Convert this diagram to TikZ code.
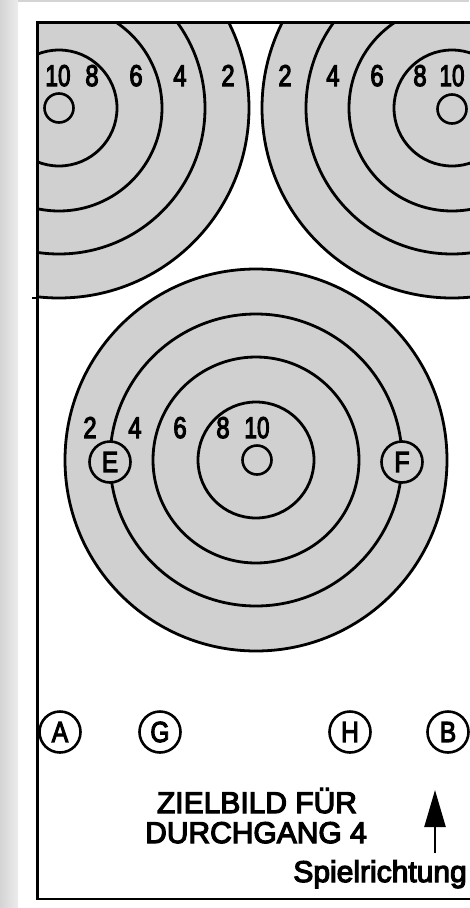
\documentclass[tikz,border=0pt]{standalone}
\usepackage{fontspec}
\usepackage{graphicx}
\setmainfont{Liberation Sans}
\newfontfamily\semib[FakeBold=4]{Liberation Sans}
\usetikzlibrary{arrows.meta}
\definecolor{tgray}{RGB}{208,208,208}
\definecolor{bgA}{RGB}{212,212,212}
\definecolor{bgB}{RGB}{236,236,236}
\begin{document}
\begin{tikzpicture}[x=1pt,y=-1pt,
  ring/.style={line width=2.8pt},
  digit/.style={anchor=base, inner sep=0pt, font=\fontsize{30}{30}\semib},
  letterc/.style={circle, draw, line width=2.6pt, minimum size=41pt, inner sep=0pt, font=\fontsize{29}{29}\semib},
  lbl/.style={inner sep=0pt, font=\fontsize{30}{30}\semib},
  bull/.style={line width=2.6pt}
]
\useasboundingbox (0,0) rectangle (469,908);
\fill[white] (0,0) rectangle (469,908);
\shade[left color=bgA, right color=bgB] (0,0) rectangle (18,908);
\fill[bgA] (18,0) rectangle (469,2);

% frame corners
\coordinate (TL) at (37.7,22.7);
\coordinate (BL) at (37.7,899);
\coordinate (TR) at (470,22.7);
\coordinate (BR) at (470,899);

% target centres
\coordinate (cL) at (59,108);
\coordinate (cR) at (452,108);
\coordinate (cM) at (256,460);

\begin{scope}
\clip (TL) rectangle (BR);
% left target
\fill[tgray] (cL) circle[radius=190pt];
\foreach \r in {58,103,146,190} \draw[ring] (cL) circle[radius=\r pt];
% right target
\fill[tgray] (cR) circle[radius=190pt];
\foreach \r in {58,103,146,190} \draw[ring] (cR) circle[radius=\r pt];
\end{scope}

% middle target
\fill[tgray] (cM) circle[radius=191pt];
\foreach \r in {58,103,146,191} \draw[ring] (cM) circle[radius=\r pt];

% bulls
\node[draw, bull, circle, minimum size=29pt, inner sep=0pt] (bL) at (59,108) {};
\node[draw, bull, circle, minimum size=29pt, inner sep=0pt] (bR) at (452,109) {};
\node[draw, bull, circle, minimum size=29pt, inner sep=0pt] (bM) at (257,460) {};

% frame
\draw[line width=2.6pt] (TR) -- (TL) -- (BL) -- (BR);
\coordinate (tk) at (32,298);
\draw[line width=2.6pt] (tk) -- (37.7,298);

% digits left target
\node[digit] (l10) at (58,86) {\scalebox{0.75}[1]{10}};
\node[digit] (l8) at (92,86) {\scalebox{0.8}[1]{8}};
\node[digit] (l6) at (136,86) {\scalebox{0.8}[1]{6}};
\node[digit] (l4) at (180,86) {\scalebox{0.8}[1]{4}};
\node[digit] (l2) at (228,86) {\scalebox{0.8}[1]{2}};
% digits right target
\node[digit] (r2) at (285,86) {\scalebox{0.8}[1]{2}};
\node[digit] (r4) at (333,86) {\scalebox{0.8}[1]{4}};
\node[digit] (r6) at (377,86) {\scalebox{0.8}[1]{6}};
\node[digit] (r8) at (420,86) {\scalebox{0.8}[1]{8}};
\node[digit] (r10) at (452,86) {\scalebox{0.75}[1]{10}};
% digits middle target
\node[digit] (m2) at (90,438) {\scalebox{0.8}[1]{2}};
\node[digit] (m4) at (135,438) {\scalebox{0.8}[1]{4}};
\node[digit] (m6) at (180,438) {\scalebox{0.8}[1]{6}};
\node[digit] (m8) at (223,438) {\scalebox{0.8}[1]{8}};
\node[digit] (m10) at (257,438) {\scalebox{0.75}[1]{10}};

% E and F
\node[letterc, fill=tgray] (E) at (110,462) {\scalebox{0.85}[1]{E}};
\node[letterc, fill=tgray] (F) at (402,462) {\scalebox{0.85}[1]{F}};

% bottom letters
\node[letterc, fill=white] (A) at (60,732) {\scalebox{0.85}[1]{A}};
\node[letterc, fill=white] (G) at (160,732) {\scalebox{0.85}[1]{G}};
\node[letterc, fill=white] (H) at (350,732) {\scalebox{0.85}[1]{H}};
\node[letterc, fill=white] (B) at (448,732) {\scalebox{0.85}[1]{B}};

% caption
\node[lbl, anchor=base] (t1) at (257,813) {ZIELBILD FÜR};
\node[lbl, anchor=base] (t2) at (256,843) {DURCHGANG 4};
\node[lbl, anchor=base east] (t3) at (467,882) {Spielrichtung};

% arrow
\coordinate (a0) at (435,853);
\coordinate (a1) at (435,790);
\draw[line width=2.4pt, -{Triangle[length=37pt,width=21pt]}] (a0) -- (a1);
\end{tikzpicture}
\end{document}
